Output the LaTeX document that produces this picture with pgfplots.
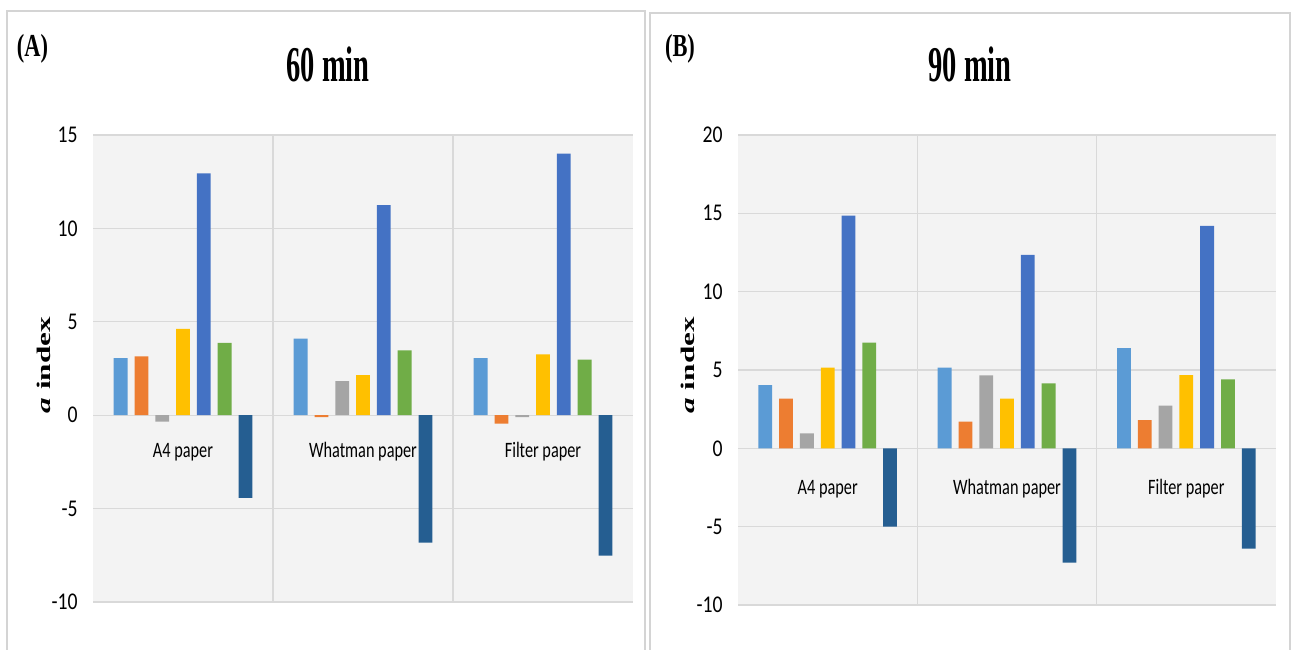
\documentclass[border=0pt]{standalone}
\usepackage{fontspec}
\setmainfont{Liberation Serif}
\newfontfamily\carlito{Carlito}
\usepackage{pgfplots}
\usepackage{pgfplotstable}
\pgfplotsset{compat=1.18}

\definecolor{c1}{HTML}{5B9BD5}
\definecolor{c2}{HTML}{ED7D31}
\definecolor{c3}{HTML}{A5A5A5}
\definecolor{c4}{HTML}{FFC000}
\definecolor{c5}{HTML}{4472C4}
\definecolor{c6}{HTML}{70AD47}
\definecolor{c7}{HTML}{255E91}
\definecolor{gridc}{HTML}{D9D9D9}
\definecolor{bgc}{HTML}{F3F3F3}
\definecolor{framec}{HTML}{D4D4D4}

% 60 min
\pgfplotstableread{
x s1 s2 s3 s4 s5 s6 s7
0 3.05 3.15 -0.35 4.62 12.95 3.87 -4.43
1 4.10 -0.10 1.82 2.14 11.25 3.47 -6.82
2 3.05 -0.45 -0.10 3.25 14.00 2.97 -7.52
}\tableA

% 90 min
\pgfplotstableread{
x s1 s2 s3 s4 s5 s6 s7
0 4.03 3.17 0.95 5.15 14.85 6.75 -5.00
1 5.15 1.70 4.66 3.18 12.35 4.15 -7.30
2 6.40 1.80 2.72 4.68 14.20 4.40 -6.40
}\tableB

\pgfplotsset{
  panel/.style={
    scale only axis,
    ybar=3.5pt, bar width=6.9pt,
    xmin=-0.5, xmax=2.5,
    xtick={0,1,2},
    xticklabels={A4 paper, Whatman paper, Filter paper},
    extra x ticks={0.5,1.5}, extra x tick labels={},
    extra x tick style={grid=major, major grid style={draw=gridc, line width=0.6pt}},
    ymajorgrids,
    major grid style={draw=gridc, line width=0.6pt},
    axis line style={draw=none},
    major tick length=0pt,
    axis background/.style={fill=bgc},
    yticklabel style={font=\carlito\fontsize{12}{12}\selectfont, anchor=east, inner sep=0pt, xshift=-7.5pt, xscale=0.82},
    xticklabel style={font=\carlito\fontsize{11}{11}\selectfont, anchor=center, inner sep=0pt, xscale=0.74},
    every axis plot/.append style={draw=none},
    ylabel={\textbf{\textit{a} index}},
  }
}

\begin{document}
\begin{tikzpicture}
\useasboundingbox (0,0) rectangle (647.5pt,324.5pt);

% panel frames
\draw[framec, line width=1pt] (3.5pt,-5pt) -- (3.5pt,319pt) -- (322.5pt,319pt) -- (322.5pt,-5pt);
\draw[framec, line width=1pt] (325pt,-5pt) -- (325pt,318pt) -- (645pt,318pt) -- (645pt,-5pt);

% titles
\node[font=\bfseries\fontsize{25}{25}\selectfont, xscale=0.57] at (164pt,292.5pt) {60 min};
\node[font=\bfseries\fontsize{25}{25}\selectfont, xscale=0.57] at (485pt,292.5pt) {90 min};
\node[font=\bfseries\fontsize{16}{16}\selectfont, xscale=0.7] at (16.25pt,300pt) {(A)};
\node[font=\bfseries\fontsize{16}{16}\selectfont, xscale=0.7] at (340pt,300pt) {(B)};

% Panel A
\begin{axis}[panel,
  at={(46.5pt,23.5pt)}, anchor=south west,
  width=270pt, height=233.5pt,
  ymin=-10, ymax=15,
  ytick={-10,-5,0,5,10,15},
  yticklabels={-10,-5,0,5,10,15},
  xticklabel style={yshift=75pt},
  every axis y label/.style={at={(rel axis cs:-0.0907,0.507)}, anchor=center, rotate=90, yscale=0.62, font=\fontsize{15.6}{16}\selectfont},
]
\addplot[fill=c1] table[x=x,y=s1]{\tableA};
\addplot[fill=c2] table[x=x,y=s2]{\tableA};
\addplot[fill=c3] table[x=x,y=s3]{\tableA};
\addplot[fill=c4] table[x=x,y=s4]{\tableA};
\addplot[fill=c5] table[x=x,y=s5]{\tableA};
\addplot[fill=c6] table[x=x,y=s6]{\tableA};
\addplot[fill=c7] table[x=x,y=s7]{\tableA};
\end{axis}

% Panel B
\begin{axis}[panel,
  at={(369pt,22pt)}, anchor=south west,
  width=269pt, height=235pt,
  ymin=-10, ymax=20,
  ytick={-10,-5,0,5,10,15,20},
  yticklabels={-10,-5,0,5,10,15,20},
  xticklabel style={yshift=58pt},
  every axis y label/.style={at={(rel axis cs:-0.093,0.51)}, anchor=center, rotate=90, yscale=0.62, font=\fontsize{15.6}{16}\selectfont},
]
\addplot[fill=c1] table[x=x,y=s1]{\tableB};
\addplot[fill=c2] table[x=x,y=s2]{\tableB};
\addplot[fill=c3] table[x=x,y=s3]{\tableB};
\addplot[fill=c4] table[x=x,y=s4]{\tableB};
\addplot[fill=c5] table[x=x,y=s5]{\tableB};
\addplot[fill=c6] table[x=x,y=s6]{\tableB};
\addplot[fill=c7] table[x=x,y=s7]{\tableB};
\end{axis}
\end{tikzpicture}
\end{document}
